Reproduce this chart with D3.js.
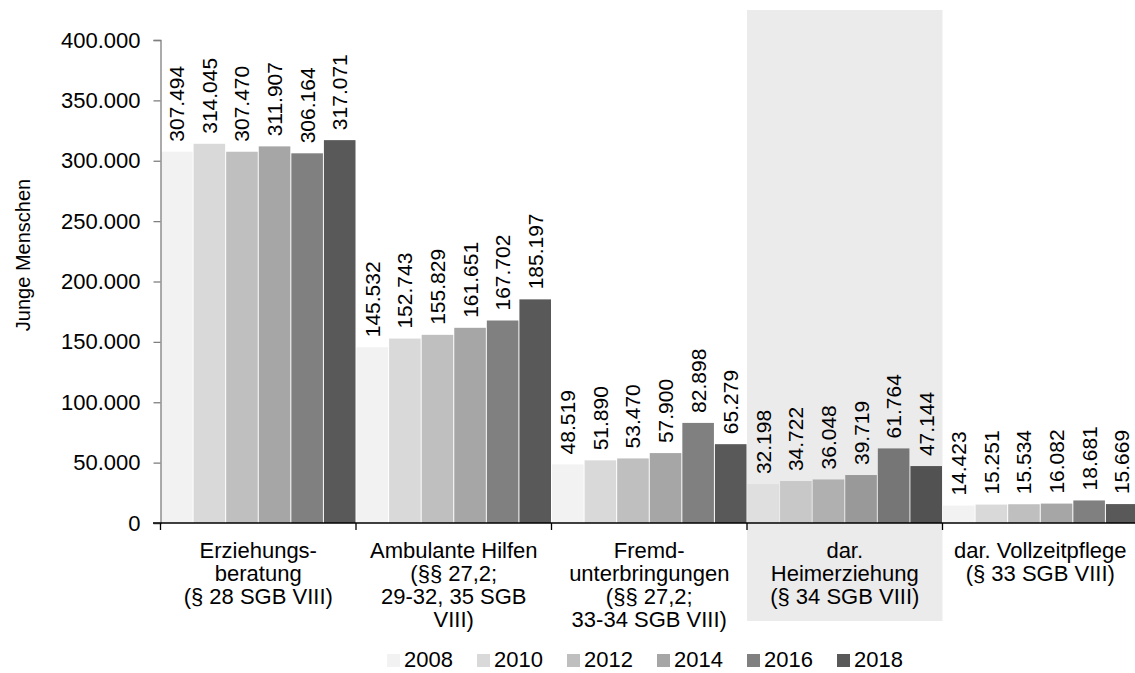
<!DOCTYPE html>
<html>
<head>
<meta charset="utf-8">
<script src="https://cdn.jsdelivr.net/npm/d3@7"></script>
<style>
  body { margin: 0; background: #fff; }
  svg text { font-family: "Liberation Sans", Arial, sans-serif; fill: #000; }
</style>
</head>
<body>
<div id="chart"></div>
<script>
// categories (one entry per line of the axis label)
var categories = [
  ['Erziehungs-', 'beratung', '(§ 28 SGB VIII)'],
  ['Ambulante Hilfen', '(§§ 27,2;', '29-32, 35 SGB', 'VIII)'],
  ['Fremd-', 'unterbringungen', '(§§ 27,2;', '33-34 SGB VIII)'],
  ['dar.', 'Heimerziehung', '(§ 34 SGB VIII)'],
  ['dar. Vollzeitpflege', '(§ 33 SGB VIII)']
]
var years = ['2008', '2010', '2012', '2014', '2016', '2018']
var colors = ['#f2f2f2', '#d9d9d9', '#bfbfbf', '#a6a6a6', '#808080', '#595959']

var v2008 = [307494, 145532, 48519, 32198, 14423]
var v2010 = [314045, 152743, 51890, 34722, 15251]
var v2012 = [307470, 155829, 53470, 36048, 15534]
var v2014 = [311907, 161651, 57900, 39719, 16082]
var v2016 = [306164, 167702, 82898, 61764, 18681]
var v2018 = [317071, 185197, 65279, 47144, 15669]
var series = [v2008, v2010, v2012, v2014, v2016, v2018]

var yTicks = [0, 50000, 100000, 150000, 200000, 250000, 300000, 350000, 400000]
var highlighted = 3

var de = d3.formatLocale({decimal: ',', thousands: '.', grouping: [3], currency: ['', ' €']})
var fmt = de.format(',d')

var width = 1135, height = 673

var svg = d3.select('#chart')
    .append('svg')
    .attr('width', width)
    .attr('height', height)

var catKeys = categories.map(function(c, i){ return 'c' + i })

var x0 = d3.scaleBand()
    .domain(catKeys)
    .range([160.5, 1138])
    .padding(0)
var x1 = d3.scaleBand()
    .domain(years)
    .range([0, x0.bandwidth()])
    .padding(0)
var y = d3.scaleLinear()
    .domain([0, 400000])
    .range([523, 40])

// flat rows for the bars
var rows = []
catKeys.forEach(function(k, ci){
    years.forEach(function(yr, yi){
        rows.push({cat: k, year: yr, yi: yi, value: series[yi][ci]})
    })
})

svg.append('g')
    .selectAll('rect')
    .data(rows)
    .enter()
    .append('rect')
    .attr('x', function(d){ return x0(d.cat) + x1(d.year) + 0.5 })
    .attr('y', function(d){ return y(d.value) })
    .attr('width', x1.bandwidth() - 1)
    .attr('height', function(d){ return y(0) - y(d.value) })
    .attr('fill', function(d){ return colors[d.yi] })

// grey shading over the Heimerziehung group
svg.append('rect')
    .attr('x', x0(catKeys[highlighted]))
    .attr('y', 10)
    .attr('width', x0.bandwidth())
    .attr('height', 611)
    .attr('fill', '#000')
    .attr('fill-opacity', 0.08)

// value labels
svg.append('g')
    .selectAll('text')
    .data(rows)
    .enter()
    .append('text')
    .attr('transform', function(d){
        var cx = x0(d.cat) + x1(d.year) + x1.bandwidth() / 2
        return 'translate(' + (cx + 7.5) + ',' + (y(d.value) - 10) + ') rotate(-90)'
    })
    .style('font-size', '21px')
    .text(function(d){ return fmt(d.value) })

// y axis
var yAxis = svg.append('g')
    .attr('transform', 'translate(160.5,0)')
    .call(d3.axisLeft(y).tickValues(yTicks).tickFormat(fmt).tickSize(7).tickPadding(13))
yAxis.select('.domain').attr('stroke', '#7f7f7f').attr('stroke-width', 1.3)
yAxis.selectAll('.tick line').attr('stroke', '#7f7f7f').attr('stroke-width', 1.3)
yAxis.selectAll('.tick text')
    .style('font-size', '22px')
    .style('font-family', '"Liberation Sans", Arial, sans-serif')
    .attr('fill', '#000')

// x axis line and separators
svg.append('line')
    .attr('x1', 153).attr('x2', width)
    .attr('y1', y(0)).attr('y2', y(0))
    .attr('stroke', '#000').attr('stroke-width', 1.3)
svg.append('g')
    .selectAll('line')
    .data(catKeys)
    .enter()
    .append('line')
    .attr('x1', function(d){ return x0(d) })
    .attr('x2', function(d){ return x0(d) })
    .attr('y1', y(0))
    .attr('y2', y(0) + 7)
    .attr('stroke', '#000').attr('stroke-width', 1.3)

// category labels
var catG = svg.append('g')
    .selectAll('text')
    .data(categories)
    .enter()
    .append('text')
    .attr('text-anchor', 'middle')
    .style('font-size', '22px')
catG.selectAll('tspan')
    .data(function(d, i){ return d.map(function(line){ return {line: line, ci: i} }) })
    .enter()
    .append('tspan')
    .attr('x', function(d){ return x0(catKeys[d.ci]) + x0.bandwidth() / 2 })
    .attr('y', function(d, j){ return 558 + j * 23 })
    .text(function(d){ return d.line })

// y title
svg.append('text')
    .attr('transform', 'translate(30,255) rotate(-90)')
    .attr('text-anchor', 'middle')
    .style('font-size', '20px')
    .text('Junge Menschen')

// legend
var legend = svg.append('g')
    .selectAll('g')
    .data(years)
    .enter()
    .append('g')
    .attr('transform', function(d, i){ return 'translate(' + (387 + i * 90) + ',0)' })
legend.append('rect')
    .attr('x', 0).attr('y', 654)
    .attr('width', 13).attr('height', 13)
    .attr('fill', function(d, i){ return colors[i] })
legend.append('text')
    .attr('x', 17).attr('y', 667)
    .style('font-size', '22px')
    .text(function(d){ return d })
</script>
</body>
</html>
